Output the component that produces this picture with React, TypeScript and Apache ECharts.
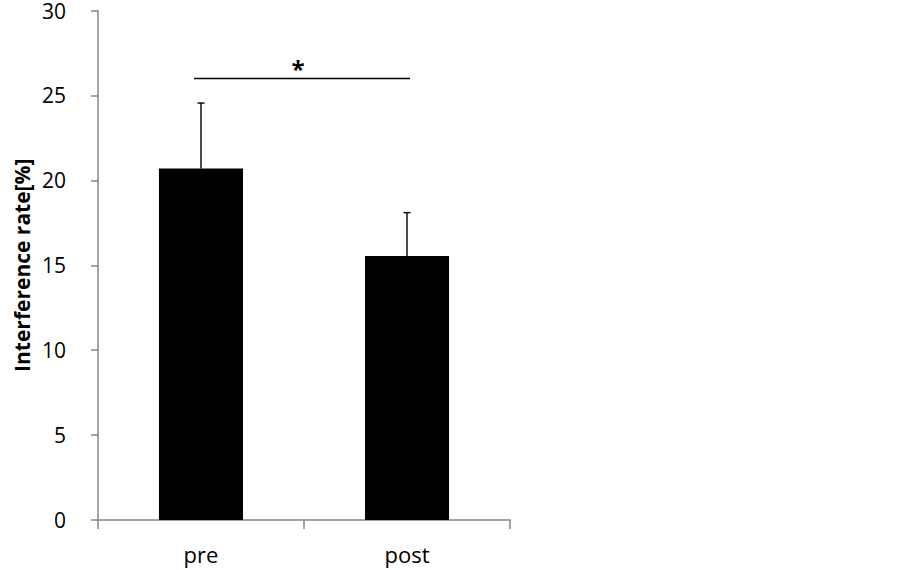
import React, { useEffect, useRef } from "react";
import * as echarts from "echarts";

const categories = ["pre", "post"];
const means = [20.7, 15.55];
const errorsUp = [24.55, 18.1];
const sigLevel = 26;
const sigLabel = "*";
const yTitle = "Interference rate[%]";
const yMin = 0;
const yMax = 30;
const yInterval = 5;

const FONT = "'Open Sans', 'Liberation Sans', sans-serif";

export default function App() {
  const ref = useRef<HTMLDivElement>(null);
  useEffect(() => {
    if (!ref.current) return;
    const chart = echarts.init(ref.current, undefined, { renderer: "svg" });
    chart.setOption({
      animation: false,
      backgroundColor: "#ffffff",
      grid: { left: 98, right: 393, top: 10, bottom: 50, containLabel: false },
      xAxis: {
        type: "category",
        data: categories,
        boundaryGap: true,
        axisLine: { lineStyle: { color: "#868686", width: 1.5 } },
        axisTick: { show: true, length: 9, lineStyle: { color: "#868686", width: 1.5 } },
        axisLabel: { color: "#000", fontSize: 22, fontFamily: FONT, margin: 23 },
      },
      yAxis: {
        type: "value",
        min: yMin,
        max: yMax,
        interval: yInterval,
        name: yTitle,
        nameLocation: "middle",
        nameGap: 66,
        nameTextStyle: { color: "#000", fontSize: 21, fontWeight: "bold", fontFamily: FONT },
        axisLine: { show: true, lineStyle: { color: "#868686", width: 1.5 } },
        axisTick: { show: true, length: 7, lineStyle: { color: "#868686", width: 1.5 } },
        axisLabel: { color: "#000", fontSize: 21, fontFamily: FONT, margin: 32 },
        splitLine: { show: false },
      },
      series: [
        {
          type: "bar",
          data: means,
          barWidth: "40.8%",
          itemStyle: { color: "#000" },
          z: 2,
        },
        {
          type: "custom",
          data: categories.map((c, i) => [i, means[i], errorsUp[i]]),
          z: 3,
          renderItem: (params: any, api: any) => {
            const i = api.value(0);
            const base = api.coord([i, api.value(1)]);
            const top = api.coord([i, api.value(2)]);
            const capHalf = 3.5;
            return {
              type: "group",
              children: [
                {
                  type: "line",
                  shape: { x1: base[0], y1: base[1], x2: top[0], y2: top[1] },
                  style: { stroke: "#000", lineWidth: 1.4 },
                },
                {
                  type: "line",
                  shape: { x1: top[0] - capHalf, y1: top[1], x2: top[0] + capHalf, y2: top[1] },
                  style: { stroke: "#000", lineWidth: 1.4 },
                },
              ],
            };
          },
        },
        {
          type: "custom",
          data: [[0, 1, sigLevel]],
          z: 3,
          renderItem: (params: any, api: any) => {
            const a = api.coord([api.value(0), api.value(2)]);
            const b = api.coord([api.value(1), api.value(2)]);
            const x1 = a[0] - 7;
            const x2 = b[0] + 3;
            return {
              type: "group",
              children: [
                {
                  type: "line",
                  shape: { x1, y1: a[1], x2, y2: b[1] },
                  style: { stroke: "#000", lineWidth: 1.5 },
                },
                {
                  type: "text",
                  x: (x1 + x2) / 2 - 4,
                  y: a[1] + 2,
                  style: {
                    text: sigLabel,
                    fill: "#000",
                    fontSize: 24,
                    fontWeight: "bold",
                    fontFamily: FONT,
                    align: "center",
                    verticalAlign: "bottom",
                  },
                },
              ],
            };
          },
        },
      ],
    });
    return () => chart.dispose();
  }, []);
  return (
    <div
      ref={ref}
      style={{ position: "fixed", left: 0, top: 0, width: 903, height: 570, background: "#fff" }}
    />
  );
}
